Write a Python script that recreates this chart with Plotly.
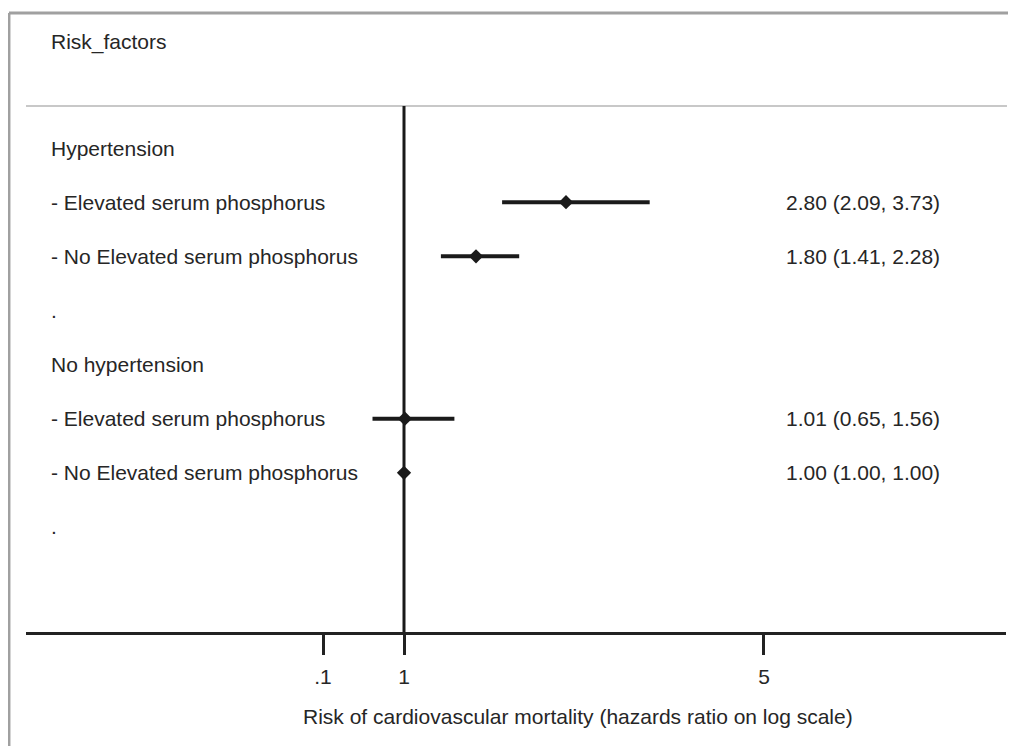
import plotly.graph_objects as go

# ---- data ----
row_labels = ["Hypertension",
              "- Elevated serum phosphorus",
              "- No Elevated serum phosphorus",
              ".",
              "No hypertension",
              "- Elevated serum phosphorus",
              "- No Elevated serum phosphorus",
              "."]
row_pos = [1, 2, 3, 4, 5, 6, 7, 8]

est_rows = [2, 3, 6, 7]
hr = [2.80, 1.80, 1.01, 1.00]
ci_low = [2.09, 1.41, 0.65, 1.00]
ci_high = [3.73, 2.28, 1.56, 1.00]
hr_text = ["2.80 (2.09, 3.73)", "1.80 (1.41, 2.28)",
           "1.01 (0.65, 1.56)", "1.00 (1.00, 1.00)"]

tick_vals = [0.1, 1, 5]
tick_text = [".1", "1", "5"]

header_left = "Risk_factors"
header_right = "Hazards_ratio (95% CI)"
x_title = "Risk of cardiovascular mortality (hazards ratio on log scale)"

# ---- layout helpers ----
FONT = "Liberation Sans, Arial, sans-serif"
FS = 21
TXT = "#262626"
INK = "#1a1a1a"
header_row = -0.958
sep_row = 0.224
y_top, y_bot = -1.586, 9.94
x_min, x_max = -3.2, 7.689
label_x = -2.944
value_x = 6.978
header_right_x = 7.7

fig = go.Figure()

# CI bars + diamonds
fig.add_trace(go.Scatter(
    x=hr, y=est_rows, mode="markers",
    marker=dict(symbol="diamond", size=11, color=INK),
    error_x=dict(type="data", symmetric=False,
                 array=[h - e for h, e in zip(ci_high, hr)],
                 arrayminus=[e - l for e, l in zip(hr, ci_low)],
                 thickness=4, width=0, color=INK),
    showlegend=False, hoverinfo="skip", cliponaxis=False))

annotations = []
for r, lab in zip(row_pos, row_labels):
    annotations.append(dict(x=label_x, y=r, xref="x", yref="y", text=lab,
                            showarrow=False, xanchor="left", yanchor="middle",
                            font=dict(family=FONT, size=FS, color=TXT)))
for r, t in zip(est_rows, hr_text):
    annotations.append(dict(x=value_x, y=r, xref="x", yref="y", text=t,
                            showarrow=False, xanchor="right", yanchor="middle",
                            font=dict(family=FONT, size=FS, color=TXT)))
annotations.append(dict(x=label_x, y=header_row, xref="x", yref="y", text=header_left,
                        showarrow=False, xanchor="left", yanchor="middle",
                        font=dict(family=FONT, size=FS, color=TXT)))
annotations.append(dict(x=header_right_x, y=header_row, xref="x", yref="y", text=header_right,
                        showarrow=False, xanchor="right", yanchor="middle",
                        font=dict(family=FONT, size=FS, color=TXT)))
annotations.append(dict(x=0.563, y=-0.136, xref="paper", yref="paper", text=x_title,
                        showarrow=False, xanchor="center", yanchor="middle",
                        font=dict(family=FONT, size=FS, color=TXT)))

shapes = [
    # separator under header
    dict(type="line", xref="paper", yref="y", x0=0, x1=1.001, y0=sep_row, y1=sep_row,
         line=dict(color="#c8c8c8", width=2)),
    # null line at HR=1
    dict(type="line", xref="x", yref="y", x0=1, x1=1, y0=sep_row, y1=y_bot,
         line=dict(color=INK, width=3)),
    # outer frame (top and left)
    dict(type="line", xref="paper", yref="paper", x0=-0.0174, x1=1.02, y0=0.992, y1=0.992,
         line=dict(color="#a0a0a0", width=3)),
    dict(type="line", xref="paper", yref="paper", x0=-0.0174, x1=-0.0174, y0=0.992, y1=-0.19,
         line=dict(color="#a0a0a0", width=3)),
]

fig.update_layout(
    width=1008, height=738,
    margin=dict(l=18, r=10, t=0, b=114),
    paper_bgcolor="white", plot_bgcolor="white",
    font=dict(family=FONT, size=FS, color=TXT),
    annotations=annotations, shapes=shapes,
    xaxis=dict(range=[x_min, x_max], showgrid=False, zeroline=False,
               showline=True, linecolor="#222222", linewidth=3,
               ticks="outside", ticklen=20, tickwidth=3, tickcolor="#222222",
               tickvals=tick_vals, ticktext=tick_text,
               tickfont=dict(family=FONT, size=FS, color=TXT),
               ticklabelstandoff=4),
    yaxis=dict(range=[y_bot, y_top], visible=False, showgrid=False, zeroline=False),
)

fig.write_html("out.html")
